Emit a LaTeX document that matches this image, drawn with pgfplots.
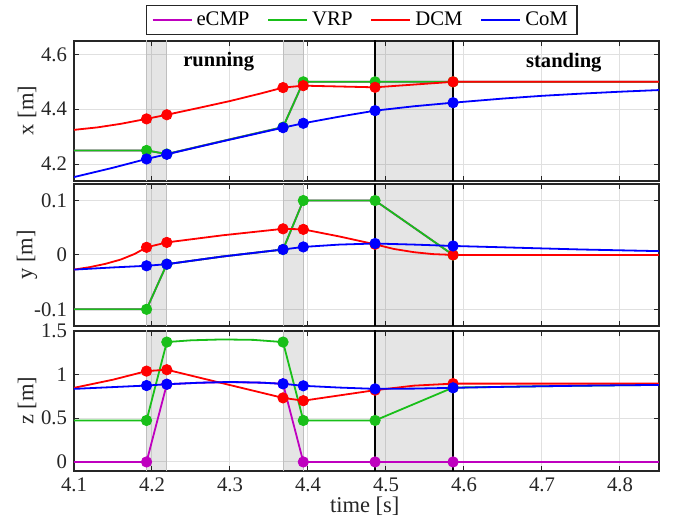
\documentclass[border=0pt]{standalone}
\usepackage{fontspec}
\setmainfont{Liberation Serif}
\usepackage{pgfplots}
\pgfplotsset{compat=1.18}

\definecolor{cmpc}{rgb}{0.75,0,0.75}
\definecolor{vrpc}{rgb}{0.1,0.75,0.1}
\definecolor{dcmc}{rgb}{1,0,0}
\definecolor{comc}{rgb}{0,0,1}
\definecolor{axc}{rgb}{0.15,0.15,0.15}

\pgfplotsset{
  panel/.style={
    scale only axis, width=292.5bp, height=70bp, anchor=south west,
    xmin=4.1, xmax=4.85,
    xtick={4.1,4.2,4.3,4.4,4.5,4.6,4.7,4.8},
    grid=major, major grid style={black!12, line width=0.5bp},
    tick align=inside, major tick length=2.5bp,
    every tick/.style={axc, line width=0.5bp},
    axis line style={axc, line width=0.9bp},
    tick label style={font=\fontsize{10.4}{12}\selectfont, text=axc},
    label style={font=\fontsize{11.3}{13}\selectfont, text=axc},
    /pgf/number format/assume math mode=true,
    ylabel style={at={(rel axis cs:-0.0803,0.5)}, anchor=center},
    clip=true,
  },
  ln/.style={line width=0.9bp, mark=none},
  mk/.style={only marks, mark=*, mark size=2.6bp, forget plot},
  legend image code/.code={\draw[#1, line width=0.9bp] (0bp,0bp) -- (19.5bp,0bp);},
}

% phase shading and the two stance boundaries
\newcommand{\phases}{%
  \addplot[fill=black, fill opacity=0.1, draw=black!25, line width=0.4bp, forget plot]
    coordinates {(4.193,-10) (4.219,-10) (4.219,10) (4.193,10) (4.193,-10)};
  \addplot[fill=black, fill opacity=0.1, draw=black!25, line width=0.4bp, forget plot]
    coordinates {(4.368,-10) (4.394,-10) (4.394,10) (4.368,10) (4.368,-10)};
  \addplot[fill=black, fill opacity=0.1, draw=none, forget plot]
    coordinates {(4.486,-10) (4.586,-10) (4.586,10) (4.486,10) (4.486,-10)};
  \addplot[black, line width=1.2bp, forget plot] coordinates {(4.486,-10) (4.486,10)};
  \addplot[black, line width=1.2bp, forget plot] coordinates {(4.586,-10) (4.586,10)};
}

\begin{document}
\begin{tikzpicture}
\path[use as bounding box] (-37bp,-26.65bp) rectangle (300bp,235.35bp);

% ---------------- x ----------------
\begin{axis}[panel, at={(0,145bp)},
  ymin=4.14, ymax=4.65, ytick={4.2,4.4,4.6},
  xticklabels={}, ylabel={x [m]},
  legend columns=4,
  legend style={at={(0.492,1.148)}, anchor=center, draw=axc, line width=0.6bp,
    font=\fontsize{10.4}{12}\selectfont, inner ysep=1.2bp, inner xsep=2.5bp,
    /tikz/every even column/.append style={column sep=7bp}},
]
\phases
\addplot[ln, cmpc] coordinates {(4.1,4.25)(4.193,4.25)(4.219,4.237)(4.29,4.284)(4.368,4.335)(4.394,4.5)(4.486,4.5)(4.586,4.5)(4.85,4.5)};
\addlegendentry{eCMP}
\addplot[ln, vrpc] coordinates {(4.1,4.25)(4.193,4.25)(4.219,4.237)(4.29,4.284)(4.368,4.335)(4.394,4.5)(4.486,4.5)(4.586,4.5)(4.85,4.5)};
\addlegendentry{VRP}
\addplot[mk, vrpc] coordinates {(4.193,4.25)(4.219,4.237)(4.368,4.335)(4.394,4.5)(4.486,4.5)(4.586,4.5)};
\addplot[ln, dcmc] coordinates {(4.1,4.325)(4.13,4.334)(4.16,4.347)(4.193,4.365)(4.219,4.38)(4.26,4.405)(4.3,4.43)(4.34,4.458)(4.368,4.479)(4.394,4.486)(4.44,4.483)(4.486,4.48)(4.536,4.49)(4.586,4.5)(4.85,4.5)};
\addlegendentry{DCM}
\addplot[mk, dcmc] coordinates {(4.193,4.365)(4.219,4.38)(4.368,4.479)(4.394,4.486)(4.486,4.48)(4.586,4.5)};
\addplot[ln, comc] coordinates {(4.1,4.153)(4.15,4.187)(4.193,4.219)(4.219,4.236)(4.29,4.283)(4.368,4.333)(4.394,4.349)(4.44,4.373)(4.486,4.395)(4.536,4.411)(4.586,4.424)(4.65,4.439)(4.7,4.449)(4.75,4.457)(4.8,4.464)(4.85,4.47)};
\addlegendentry{CoM}
\addplot[mk, comc] coordinates {(4.193,4.219)(4.219,4.236)(4.368,4.333)(4.394,4.349)(4.486,4.395)(4.586,4.424)};
\node[font=\bfseries\fontsize{10.3}{12}\selectfont, anchor=base] at (axis cs:4.2855,4.556) {running};
\node[font=\bfseries\fontsize{10.3}{12}\selectfont, anchor=base] at (axis cs:4.728,4.553) {standing};
\end{axis}

% ---------------- y ----------------
\begin{axis}[panel, at={(0,72.5bp)}, height=70.7bp,
  ymin=-0.13, ymax=0.13, ytick={-0.1,0,0.1},
  xticklabels={}, ylabel={y [m]},
]
\phases
\addplot[ln, cmpc] coordinates {(4.1,-0.1)(4.193,-0.1)(4.219,-0.017)(4.29,-0.003)(4.368,0.010)(4.394,0.1)(4.486,0.1)(4.586,0)(4.85,0)};
\addplot[ln, vrpc] coordinates {(4.1,-0.1)(4.193,-0.1)(4.219,-0.017)(4.29,-0.003)(4.368,0.010)(4.394,0.1)(4.486,0.1)(4.586,0)(4.85,0)};
\addplot[mk, vrpc] coordinates {(4.193,-0.1)(4.219,-0.017)(4.368,0.010)(4.394,0.1)(4.486,0.1)(4.586,0)};
\addplot[ln, dcmc] coordinates {(4.1,-0.027)(4.12,-0.0225)(4.14,-0.0165)(4.16,-0.0085)(4.178,0.002)(4.193,0.014)(4.219,0.023)(4.29,0.036)(4.368,0.048)(4.394,0.047)(4.44,0.034)(4.486,0.0195)(4.51,0.011)(4.536,0.005)(4.56,0.0015)(4.586,0)(4.85,0)};
\addplot[mk, dcmc] coordinates {(4.193,0.014)(4.219,0.023)(4.368,0.048)(4.394,0.047)(4.486,0.0195)(4.586,0)};
\addplot[ln, comc] coordinates {(4.1,-0.027)(4.15,-0.023)(4.193,-0.020)(4.219,-0.017)(4.29,-0.003)(4.368,0.010)(4.394,0.0147)(4.44,0.019)(4.486,0.021)(4.536,0.019)(4.586,0.0165)(4.65,0.014)(4.7,0.012)(4.75,0.010)(4.8,0.0085)(4.85,0.007)};
\addplot[mk, comc] coordinates {(4.193,-0.020)(4.219,-0.017)(4.368,0.010)(4.394,0.0147)(4.486,0.021)(4.586,0.0165)};
\end{axis}

% ---------------- z ----------------
\begin{axis}[panel, at={(0,0)},
  ymin=-0.1, ymax=1.5, ytick={0,0.5,1,1.5},
  xlabel={time [s]}, ylabel={z [m]},
  xlabel style={at={(rel axis cs:0.497,-0.257)}, anchor=center},
]
\phases
\addplot[ln, cmpc] coordinates {(4.1,0)(4.193,0)(4.219,0.888)(4.26,0.905)(4.3,0.912)(4.34,0.906)(4.368,0.893)(4.394,0)(4.85,0)};
\addplot[mk, cmpc] coordinates {(4.193,0)(4.219,0.888)(4.368,0.893)(4.394,0)(4.486,0)(4.586,0)};
\addplot[ln, vrpc] coordinates {(4.1,0.474)(4.193,0.474)(4.219,1.37)(4.25,1.39)(4.29,1.40)(4.33,1.395)(4.368,1.37)(4.394,0.474)(4.486,0.474)(4.586,0.85)(4.65,0.858)(4.7,0.865)(4.75,0.871)(4.8,0.876)(4.85,0.88)};
\addplot[mk, vrpc] coordinates {(4.193,0.474)(4.219,1.37)(4.368,1.37)(4.394,0.474)(4.486,0.474)(4.586,0.85)};
\addplot[ln, dcmc] coordinates {(4.1,0.847)(4.15,0.94)(4.193,1.038)(4.219,1.054)(4.29,0.90)(4.368,0.732)(4.394,0.70)(4.44,0.76)(4.486,0.82)(4.536,0.872)(4.586,0.895)(4.85,0.895)};
\addplot[mk, dcmc] coordinates {(4.193,1.038)(4.219,1.054)(4.368,0.732)(4.394,0.70)(4.486,0.82)(4.586,0.895)};
\addplot[ln, comc] coordinates {(4.1,0.835)(4.193,0.873)(4.219,0.888)(4.26,0.905)(4.3,0.914)(4.34,0.906)(4.368,0.893)(4.394,0.87)(4.44,0.85)(4.486,0.835)(4.536,0.838)(4.586,0.847)(4.65,0.858)(4.7,0.865)(4.75,0.871)(4.8,0.876)(4.85,0.88)};
\addplot[mk, comc] coordinates {(4.193,0.873)(4.219,0.888)(4.368,0.893)(4.394,0.87)(4.486,0.835)(4.586,0.847)};
\end{axis}
\end{tikzpicture}
\end{document}
